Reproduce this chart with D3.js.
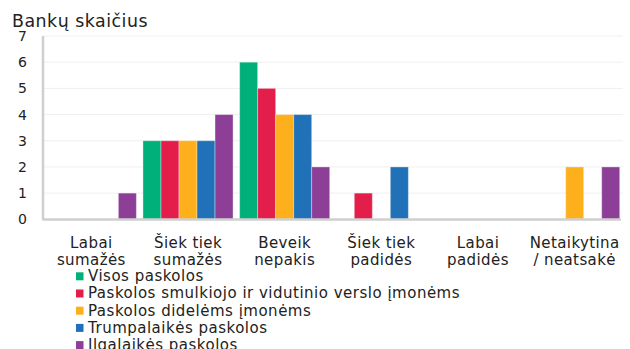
<!DOCTYPE html>
<html>
<head>
<meta charset="utf-8">
<script src="https://cdn.jsdelivr.net/npm/d3@7"></script>
<style>
  html, body { margin: 0; padding: 0; background: #fff; }
  svg { display: block; font-family: "DejaVu Sans", Verdana, sans-serif; }
</style>
</head>
<body>
<svg id="chart" width="630" height="349"></svg>
<script>
// Categories along the x axis (each label is split on two lines)
const categories = [
  ["Labai", "sumažės"],
  ["Šiek tiek", "sumažės"],
  ["Beveik", "nepakis"],
  ["Šiek tiek", "padidės"],
  ["Labai", "padidės"],
  ["Netaikytina", "/ neatsakė"]
];
const seriesNames = [
  "Visos paskolos",
  "Paskolos smulkiojo ir vidutinio verslo įmonėms",
  "Paskolos didelėms įmonėms",
  "Trumpalaikės paskolos",
  "Ilgalaikės paskolos"
];
const seriesColors = ["#00b07a", "#e31e4b", "#fdaf1c", "#2171b8", "#8d3f97"];
// Number of banks per category, one array per series
const visos        = [0, 3, 6, 0, 0, 0];
const svv          = [0, 3, 5, 1, 0, 0];
const didelems     = [0, 3, 4, 0, 0, 2];
const trumpalaikes = [0, 3, 4, 2, 0, 0];
const ilgalaikes   = [1, 4, 2, 0, 0, 2];
const seriesValues = [visos, svv, didelems, trumpalaikes, ilgalaikes];
const yTicks = [0, 1, 2, 3, 4, 5, 6, 7];
const yTitle = "Bankų skaičius";

const svg = d3.select("#chart");
const plotLeft = 43, plotRight = 623, plotTop = 36, plotBottom = 219.3;

const x = d3.scaleBand().domain(d3.range(categories.length)).range([plotLeft, plotRight]).paddingInner(0.068).paddingOuter(0.034);
const xs = d3.scaleBand().domain(d3.range(seriesNames.length)).range([0, x.bandwidth()]).padding(0);
const y = d3.scaleLinear().domain([0, 7]).range([plotBottom, plotTop]);

// Gridlines
svg.append("g").selectAll("line").data(yTicks.slice(1)).join("line")
  .attr("x1", plotLeft).attr("x2", plotRight)
  .attr("y1", d => y(d)).attr("y2", d => y(d))
  .attr("stroke", "#efefef").attr("stroke-width", 1);

// Title
svg.append("text").attr("x", 12).attr("y", 26.5)
  .attr("font-size", 17.4).attr("letter-spacing", 0.5).attr("fill", "#222").text(yTitle);

// Y tick labels
svg.append("g").selectAll("text").data(yTicks).join("text")
  .attr("x", 27).attr("y", d => y(d) + 5)
  .attr("text-anchor", "end").attr("font-size", 14).attr("fill", "#222")
  .text(d => d);

// Bars
const groups = svg.append("g").selectAll("g").data(seriesValues).join("g")
  .attr("fill", (d, i) => seriesColors[i]);
groups.each(function(vals, si) {
  d3.select(this).selectAll("rect").data(vals.map((v, ci) => ({ v, ci })).filter(d => d.v > 0)).join("rect")
    .attr("x", d => x(d.ci) + xs(si))
    .attr("width", xs.bandwidth())
    .attr("y", d => y(d.v))
    .attr("height", d => y(0) - y(d.v))
    .attr("stroke", "rgba(255,255,255,0.35)").attr("stroke-width", 1);
});

// Axis lines
svg.append("line").attr("x1", plotLeft).attr("x2", plotLeft).attr("y1", plotTop).attr("y2", plotBottom + 1)
  .attr("stroke", "#cfcfcf").attr("stroke-width", 2.5);
svg.append("line").attr("x1", plotLeft).attr("x2", plotRight - 2).attr("y1", plotBottom + 0.3).attr("y2", plotBottom + 0.3)
  .attr("stroke", "#cfcfcf").attr("stroke-width", 2.5);

// X category labels
const xl = svg.append("g").selectAll("text").data(categories).join("text")
  .attr("text-anchor", "middle").attr("font-size", 15).attr("letter-spacing", 0.4).attr("fill", "#222")
  .attr("x", (d, i) => x(i) + x.bandwidth() / 2);
xl.each(function(lines) {
  const cx = d3.select(this).attr("x");
  d3.select(this).selectAll("tspan").data(lines).join("tspan")
    .attr("x", cx)
    .attr("y", (d, k) => 248 + k * 17.3)
    .text(d => d);
});

// Legend
const lg = svg.append("g").selectAll("g").data(seriesNames).join("g")
  .attr("transform", (d, i) => `translate(76, ${272.3 + i * 17.2})`);
lg.append("rect").attr("width", 7.5).attr("height", 8).attr("fill", (d, i) => seriesColors[i]);
lg.append("text").attr("x", 12).attr("y", 8.8).attr("font-size", 15).attr("letter-spacing", 0.5).attr("fill", "#222").text(d => d);
</script>
</body>
</html>
